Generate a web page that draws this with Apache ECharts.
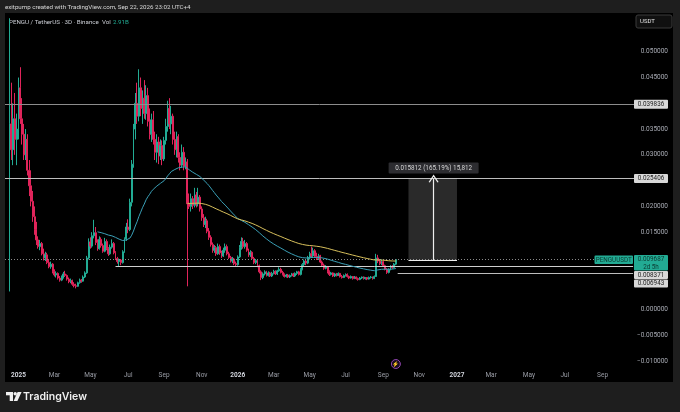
<!DOCTYPE html>
<html><head><meta charset="utf-8">
<script src="https://cdn.jsdelivr.net/npm/echarts@6/dist/echarts.min.js"></script>
<style>html,body{margin:0;padding:0;background:#1e1e1e;}#c{width:680px;height:412px;}</style>
</head><body><div id="c"></div>
<script>
// ---------- DATA ----------
const categoryStart = [2024, 11, 11];   // first 3D slot on the time axis (UTC y, m0, d)
const categoryCount = 350;              // 3-day slots visible on the time axis
const firstCandleIndex = 2;             // first candle (2024-12-17) slot
const monthNames = ['Jan','Feb','Mar','Apr','May','Jun','Jul','Aug','Sep','Oct','Nov','Dec'];
const yTickValues = [-0.01, -0.005, 0, 0.015, 0.02, 0.03, 0.035, 0.045, 0.05];

const opens = [0.0036,0.0360,0.0310,0.0370,0.0330,0.0350,0.0430,0.0370,0.0340,0.0300,0.0330,0.0270,0.0240,0.0210,0.0180,0.0155,0.0135,0.0122,0.0128,0.0108,
0.0100,0.0106,0.0091,0.0083,0.0088,0.0073,0.0067,0.0070,0.0061,0.0057,0.0063,0.0069,0.0066,0.0059,0.0054,0.0056,0.0049,0.0046,0.0045,0.0052,
0.0057,0.0055,0.0063,0.0071,0.0100,0.0131,0.0123,0.0143,0.0149,0.0130,0.0118,0.0136,0.0124,0.0113,0.0132,0.0118,0.0108,0.0121,0.0128,0.0110,
0.0099,0.0093,0.0096,0.0091,0.0112,0.0137,0.0160,0.0155,0.0208,0.0282,0.0350,0.0400,0.0375,0.0430,0.0390,0.0410,0.0380,0.0415,0.0365,0.0340,
0.0368,0.0330,0.0305,0.0325,0.0298,0.0318,0.0292,0.0328,0.0355,0.0390,0.0360,0.0375,0.0330,0.0310,0.0335,0.0295,0.0280,0.0305,0.0278,0.0286,
0.0205,0.0200,0.0215,0.0202,0.0222,0.0205,0.0218,0.0195,0.0178,0.0165,0.0172,0.0152,0.0140,0.0126,0.0115,0.0120,0.0108,0.0122,0.0110,0.0104,
0.0115,0.0122,0.0108,0.0101,0.0094,0.0098,0.0089,0.0087,0.0102,0.0120,0.0132,0.0122,0.0128,0.0115,0.0106,0.0111,0.0099,0.0091,0.0095,0.0085,
0.0073,0.0062,0.0069,0.0073,0.0066,0.0071,0.0065,0.0070,0.0074,0.0069,0.0075,0.0078,0.0072,0.0068,0.0064,0.0067,0.0063,0.0066,0.0069,0.0065,
0.0070,0.0073,0.0068,0.0078,0.0087,0.0094,0.0090,0.0101,0.0108,0.0104,0.0114,0.0103,0.0099,0.0104,0.0092,0.0086,0.0080,0.0083,0.0073,0.0068,
0.0071,0.0065,0.0069,0.0066,0.0070,0.0064,0.0062,0.0066,0.0068,0.0064,0.0061,0.0064,0.0060,0.0063,0.0060,0.0058,0.0061,0.0063,0.0060,0.0062,
0.0059,0.0062,0.0063,0.0060,0.0064,0.0100,0.0094,0.0089,0.0093,0.0085,0.0078,0.0072,0.0078,0.0084,0.0081,0.0088];
const highs = [0.0565,0.0440,0.0400,0.0420,0.0380,0.0450,0.0470,0.0410,0.0360,0.0350,0.0340,0.0290,0.0270,0.0230,0.0200,0.0170,0.0142,0.0135,0.0131,0.0118,
0.0112,0.0110,0.0098,0.0093,0.0090,0.0078,0.0074,0.0072,0.0065,0.0066,0.0073,0.0075,0.0068,0.0062,0.0060,0.0058,0.0053,0.0050,0.0054,0.0060,
0.0059,0.0066,0.0074,0.0104,0.0138,0.0140,0.0150,0.0174,0.0160,0.0136,0.0142,0.0140,0.0128,0.0139,0.0136,0.0121,0.0126,0.0136,0.0131,0.0113,
0.0102,0.0099,0.0098,0.0115,0.0140,0.0168,0.0175,0.0215,0.0290,0.0360,0.0420,0.0440,0.0466,0.0450,0.0425,0.0445,0.0435,0.0430,0.0390,0.0380,
0.0385,0.0345,0.0340,0.0335,0.0330,0.0328,0.0335,0.0370,0.0405,0.0410,0.0395,0.0380,0.0345,0.0345,0.0340,0.0305,0.0320,0.0315,0.0295,0.0292,
0.0225,0.0225,0.0220,0.0236,0.0228,0.0236,0.0222,0.0200,0.0185,0.0180,0.0176,0.0158,0.0144,0.0130,0.0125,0.0123,0.0128,0.0126,0.0114,0.0120,
0.0128,0.0126,0.0112,0.0104,0.0102,0.0100,0.0093,0.0105,0.0125,0.0140,0.0139,0.0135,0.0131,0.0118,0.0115,0.0113,0.0102,0.0098,0.0097,0.0087,
0.0076,0.0072,0.0076,0.0075,0.0074,0.0073,0.0073,0.0077,0.0076,0.0077,0.0082,0.0081,0.0075,0.0070,0.0069,0.0069,0.0068,0.0071,0.0071,0.0072,
0.0075,0.0075,0.0080,0.0090,0.0097,0.0098,0.0104,0.0112,0.0122,0.0120,0.0117,0.0110,0.0108,0.0106,0.0095,0.0089,0.0086,0.0084,0.0076,0.0073,
0.0072,0.0071,0.0071,0.0072,0.0071,0.0067,0.0068,0.0070,0.0070,0.0066,0.0066,0.0065,0.0065,0.0064,0.0062,0.0063,0.0064,0.0064,0.0063,0.0063,
0.0064,0.0065,0.0064,0.0066,0.0108,0.0106,0.0098,0.0097,0.0095,0.0087,0.0080,0.0080,0.0086,0.0086,0.0090,0.0098];
const lows = [0.0035,0.0290,0.0280,0.0300,0.0280,0.0330,0.0360,0.0320,0.0290,0.0290,0.0260,0.0220,0.0200,0.0170,0.0145,0.0125,0.0118,0.0115,0.0105,0.0095,
0.0094,0.0088,0.0080,0.0079,0.0070,0.0064,0.0062,0.0058,0.0054,0.0055,0.0060,0.0063,0.0056,0.0051,0.0051,0.0046,0.0043,0.0041,0.0044,0.0050,
0.0052,0.0054,0.0061,0.0069,0.0097,0.0118,0.0120,0.0138,0.0125,0.0114,0.0116,0.0120,0.0110,0.0111,0.0115,0.0104,0.0106,0.0118,0.0107,0.0096,
0.0089,0.0083,0.0086,0.0089,0.0110,0.0133,0.0148,0.0152,0.0200,0.0275,0.0330,0.0360,0.0365,0.0375,0.0360,0.0370,0.0368,0.0355,0.0330,0.0325,
0.0320,0.0290,0.0285,0.0282,0.0290,0.0280,0.0288,0.0320,0.0345,0.0350,0.0340,0.0320,0.0300,0.0295,0.0285,0.0270,0.0275,0.0270,0.0272,0.0045,
0.0195,0.0190,0.0195,0.0198,0.0198,0.0200,0.0190,0.0172,0.0160,0.0158,0.0148,0.0135,0.0122,0.0110,0.0110,0.0104,0.0106,0.0106,0.0100,0.0102,
0.0110,0.0105,0.0098,0.0091,0.0090,0.0086,0.0083,0.0085,0.0100,0.0116,0.0118,0.0118,0.0112,0.0102,0.0102,0.0096,0.0088,0.0088,0.0082,0.0070,
0.0057,0.0059,0.0066,0.0064,0.0064,0.0063,0.0063,0.0068,0.0067,0.0067,0.0073,0.0070,0.0066,0.0062,0.0062,0.0061,0.0061,0.0064,0.0063,0.0063,
0.0067,0.0066,0.0066,0.0076,0.0083,0.0086,0.0088,0.0097,0.0100,0.0102,0.0100,0.0096,0.0096,0.0090,0.0083,0.0077,0.0078,0.0070,0.0065,0.0066,
0.0063,0.0063,0.0064,0.0065,0.0062,0.0060,0.0061,0.0064,0.0062,0.0059,0.0060,0.0058,0.0059,0.0058,0.0056,0.0057,0.0059,0.0058,0.0058,0.0057,
0.0058,0.0060,0.0058,0.0059,0.0063,0.0090,0.0086,0.0086,0.0083,0.0076,0.0069,0.0070,0.0076,0.0079,0.0080,0.0086];
const closes = [0.0360,0.0310,0.0370,0.0330,0.0350,0.0430,0.0370,0.0340,0.0300,0.0330,0.0270,0.0240,0.0210,0.0180,0.0155,0.0135,0.0122,0.0128,0.0108,0.0100,
0.0106,0.0091,0.0083,0.0088,0.0073,0.0067,0.0070,0.0061,0.0057,0.0063,0.0069,0.0066,0.0059,0.0054,0.0056,0.0049,0.0046,0.0045,0.0052,0.0057,
0.0055,0.0063,0.0071,0.0100,0.0131,0.0123,0.0143,0.0149,0.0130,0.0118,0.0136,0.0124,0.0113,0.0132,0.0118,0.0108,0.0121,0.0128,0.0110,0.0099,
0.0093,0.0096,0.0091,0.0112,0.0137,0.0160,0.0155,0.0208,0.0282,0.0350,0.0400,0.0375,0.0430,0.0390,0.0410,0.0380,0.0415,0.0365,0.0340,0.0368,
0.0330,0.0305,0.0325,0.0298,0.0318,0.0292,0.0328,0.0355,0.0390,0.0360,0.0375,0.0330,0.0310,0.0335,0.0295,0.0280,0.0305,0.0278,0.0286,0.0205,
0.0200,0.0215,0.0202,0.0222,0.0205,0.0218,0.0195,0.0178,0.0165,0.0172,0.0152,0.0140,0.0126,0.0115,0.0120,0.0108,0.0122,0.0110,0.0104,0.0115,
0.0122,0.0108,0.0101,0.0094,0.0098,0.0089,0.0087,0.0102,0.0120,0.0132,0.0122,0.0128,0.0115,0.0106,0.0111,0.0099,0.0091,0.0095,0.0085,0.0073,
0.0062,0.0069,0.0073,0.0066,0.0071,0.0065,0.0070,0.0074,0.0069,0.0075,0.0078,0.0072,0.0068,0.0064,0.0067,0.0063,0.0066,0.0069,0.0065,0.0070,
0.0073,0.0068,0.0078,0.0087,0.0094,0.0090,0.0101,0.0108,0.0104,0.0114,0.0103,0.0099,0.0104,0.0092,0.0086,0.0080,0.0083,0.0073,0.0068,0.0071,
0.0065,0.0069,0.0066,0.0070,0.0064,0.0062,0.0066,0.0068,0.0064,0.0061,0.0064,0.0060,0.0063,0.0060,0.0058,0.0061,0.0063,0.0060,0.0062,0.0059,
0.0062,0.0063,0.0060,0.0064,0.0100,0.0094,0.0089,0.0093,0.0085,0.0078,0.0072,0.0078,0.0084,0.0081,0.0088,0.009687];

const emaFastPeriod = 50, emaSlowPeriod = 100;
const levels = { resistance: 0.039836, target: 0.025406, support1: 0.008371, support2: 0.006943 };
const lastPrice = 0.009687;
const support1Start = '2025-06-12', support2Start = '2026-09-26';
const measure = { from: 0.009594, to: 0.025406, start: '2026-10-14', mid: '2026-11-25', end: '2027-01-03',
  text: '0.015812 (165.19%) 15,812' };
const eventDate = '2026-09-23';

// ---------- BUILD ----------
const categories = [];
for (let k = 0; k < categoryCount; k++) {
  const d = new Date(Date.UTC(categoryStart[0], categoryStart[1], categoryStart[2]) + k * 3 * 864e5);
  categories.push(d.toISOString().slice(0, 10));
}
const labelIdx = new Set(); let prevM = -1;
categories.forEach((c, k) => { const m = +c.slice(5, 7) - 1; if (m !== prevM && m % 2 === 0) labelIdx.add(k); prevM = m; });

const candleData = opens.map((o, i) => [i + firstCandleIndex, o, closes[i], lows[i], highs[i]]);
// exponential moving average of the closes, seeded with the simple average of the first n closes
function ema(n) {
  const a = 2 / (n + 1), out = [];
  let e = 0;
  for (let i = n - 1; i < closes.length; i++) {
    if (i === n - 1) { let s = 0; for (let j = 0; j < n; j++) s += closes[j]; e = s / n; }
    else e = a * closes[i] + (1 - a) * e;
    out.push([i + firstCandleIndex, e]);
  }
  return out;
}
const UP = '#22ab94', DOWN = '#e0245a';
const FONT = 'Roboto, "Noto Sans", sans-serif';
const lastCat = categories[categoryCount - 1];
const chevron = 'path://M0,9 L5,0 L10,9 L8.8,9.8 L5,2.6 L1.2,9.8 Z';

const chart = echarts.init(document.getElementById('c'), null, { width: 680, height: 412 });
chart.setOption({
  animation: false,
  backgroundColor: '#1e1e1e',
  grid: { left: 5, right: 46, top: 13, bottom: 44 },
  xAxis: {
    type: 'category', data: categories, boundaryGap: true,
    axisLine: { show: false }, axisTick: { show: false }, splitLine: { show: false },
    axisLabel: {
      interval: (i) => labelIdx.has(i), margin: 4, fontSize: 6.5, color: '#9a9da6', fontFamily: FONT,
      formatter: (v) => { const m = +v.slice(5, 7) - 1; return m === 0 ? '{y|' + v.slice(0, 4) + '}' : monthNames[m]; },
      rich: { y: { fontSize: 6.5, fontWeight: 'bold', color: '#d1d4dc', fontFamily: FONT } }
    }
  },
  yAxis: {
    type: 'value', position: 'right', min: -0.011348, max: 0.057517,
    axisLine: { show: false }, axisTick: { show: false }, splitLine: { show: false },
    axisLabel: {
      customValues: yTickValues, align: 'right', margin: 34, fontSize: 6.5, color: '#a8abb4', fontFamily: FONT,
      formatter: (v) => (v < 0 ? '\u2212' : '') + Math.abs(v).toFixed(6)
    }
  },
  series: [
    {
      type: 'candlestick', data: candleData, encode: { x: 0, y: [1, 2, 3, 4] }, barWidth: 1.45, z: 4,
      itemStyle: { color: UP, color0: DOWN, borderColor: UP, borderColor0: DOWN, borderWidth: 1 },
      markArea: {
        silent: true, z: 1,
        itemStyle: { color: '#2a2a2a' },
        data: [[{ coord: [measure.start, measure.to] }, { coord: [measure.end, measure.from] }]]
      },
      markLine: {
        silent: true, symbol: ['none', 'none'], label: { show: false }, animation: false, precision: 6,
        data: [
          { yAxis: levels.resistance, lineStyle: { color: '#8c8c8c', width: 1, type: 'solid' } },
          { yAxis: levels.target, lineStyle: { color: '#bdbdbd', width: 1, type: 'solid' } },
          [{ coord: [support1Start, levels.support1], lineStyle: { color: '#cfcfcf', width: 1, type: 'solid' } }, { coord: [lastCat, levels.support1] }],
          [{ coord: [support2Start, levels.support2], lineStyle: { color: '#bdbdbd', width: 1, type: 'solid' } }, { coord: [lastCat, levels.support2] }],
          { yAxis: lastPrice, lineStyle: { color: '#8a8a8a', width: 1, type: [1, 2] } },
          [{ coord: [measure.start, measure.from], lineStyle: { color: '#eeeeee', width: 1.2, type: 'solid' } }, { coord: [measure.end, measure.from] }],
          [{ coord: [measure.mid, measure.from], lineStyle: { color: '#eeeeee', width: 1.2, type: 'solid' } },
           { coord: [measure.mid, measure.to], symbol: chevron, symbolSize: [10, 8] }]
        ]
      }
    },
    { type: 'line', data: ema(emaFastPeriod), showSymbol: false, z: 5, lineStyle: { color: '#3a9fb6', width: 1 } },
    { type: 'line', data: ema(emaSlowPeriod), showSymbol: false, z: 5, lineStyle: { color: '#d8c05c', width: 1 } }
  ]
});

const yP = (v) => chart.convertToPixel({ yAxisIndex: 0 }, v);
const xP = (c) => chart.convertToPixel({ xAxisIndex: 0 }, c);
function box(x, y, w, h, fill, lines, color, fs) {
  const els = [{ type: 'rect', shape: { x, y, width: w, height: h, r: 1 }, style: { fill }, z: 20 }];
  const lh = h / lines.length;
  lines.forEach((t, i) => els.push({ type: 'text', z: 21, style: { text: t, x: x + w / 2, y: y + lh * (i + 0.5) + 0.3,
    align: 'center', verticalAlign: 'middle', fill: color, fontSize: fs || 6.3, fontFamily: FONT } }));
  return els;
}
const yRes = yP(levels.resistance), yTar = yP(levels.target), yLast = yP(lastPrice);
const axX = 634;
const priceTop = yLast - 4.5, priceH = 15.5;
const s1Top = priceTop + priceH + 0.5, s2Top = s1Top + 8.5;
const xm = xP(measure.mid);
const gfx = [
  { type: 'rect', z: -100, shape: { x: 5, y: 13, width: 668, height: 369 }, style: { fill: '#000000' } },
  { type: 'text', style: { text: 'exitpump created with TradingView.com, Sep 22, 2026 23:02 UTC+4', x: 5, y: 7.5,
    verticalAlign: 'middle', fill: '#d8d8d8', fontSize: 6.2, fontFamily: FONT } },
  { type: 'text', style: { text: 'PENGU / TetherUS \u00b7 3D \u00b7 Binance  Vol', x: 9, y: 22.5,
    verticalAlign: 'middle', fill: '#c9ccd3', fontSize: 6.2, fontFamily: FONT } },
  { type: 'text', style: { text: '2.91B', x: 113, y: 22.5, verticalAlign: 'middle', fill: UP, fontSize: 6.2, fontFamily: FONT } },
  { type: 'rect', shape: { x: 636, y: 15, width: 36, height: 13, r: 2 }, style: { fill: '#101010', stroke: '#3a3a3a', lineWidth: 1 } },
  { type: 'text', style: { text: 'USDT', x: 640, y: 21.5, verticalAlign: 'middle', fill: '#e0e0e0', fontSize: 6, fontFamily: FONT } },
  ...box(axX, yRes - 4.5, 34, 9, '#d8d8d8', ['0.039836'], '#1c1c1c'),
  ...box(axX, yTar - 4.5, 34, 9, '#d8d8d8', ['0.025406'], '#1c1c1c'),
  ...box(594.5, yLast - 4, 38.5, 8.5, UP, ['PENGUUSDT'], '#0c3a31'),
  ...box(axX, priceTop, 34, priceH, UP, ['0.009687', '2d 5h'], '#0c3a31'),
  ...box(axX, s1Top, 34, 8, '#d8d8d8', ['0.008371'], '#1c1c1c'),
  ...box(axX, s2Top, 34, 8, '#d8d8d8', ['0.006943'], '#1c1c1c'),
  ...box(xm - 45, yTar - 16, 90, 11, '#2c2c30', [measure.text], '#d6d6d6', 6.3),
  { type: 'circle', shape: { cx: xP(eventDate), cy: 364, r: 4.5 }, style: { fill: '#1a0d22', stroke: '#8e44ad', lineWidth: 1 } },
  { type: 'text', style: { text: '\u26a1', x: xP(eventDate), y: 364.3, align: 'center', verticalAlign: 'middle', fill: '#b26ad6', fontSize: 5.5 } },
  // TradingView footer logo
  { type: 'rect', shape: { x: 6, y: 392, width: 7, height: 3.3 }, style: { fill: '#f0f0f0' } },
  { type: 'rect', shape: { x: 9.7, y: 392, width: 3.3, height: 9 }, style: { fill: '#f0f0f0' } },
  { type: 'circle', shape: { cx: 15.2, cy: 393.7, r: 1.7 }, style: { fill: '#f0f0f0' } },
  { type: 'polygon', shape: { points: [[17.6, 392], [21.6, 392], [17.4, 401], [13.6, 401]] }, style: { fill: '#f0f0f0' } },
  { type: 'text', style: { text: 'TradingView', x: 23, y: 396.8, verticalAlign: 'middle', fill: '#f0f0f0',
    fontSize: 10.5, fontWeight: 600, fontFamily: 'Inter, Lato, sans-serif' } }
];
chart.setOption({ graphic: gfx });
</script>
</body></html>
